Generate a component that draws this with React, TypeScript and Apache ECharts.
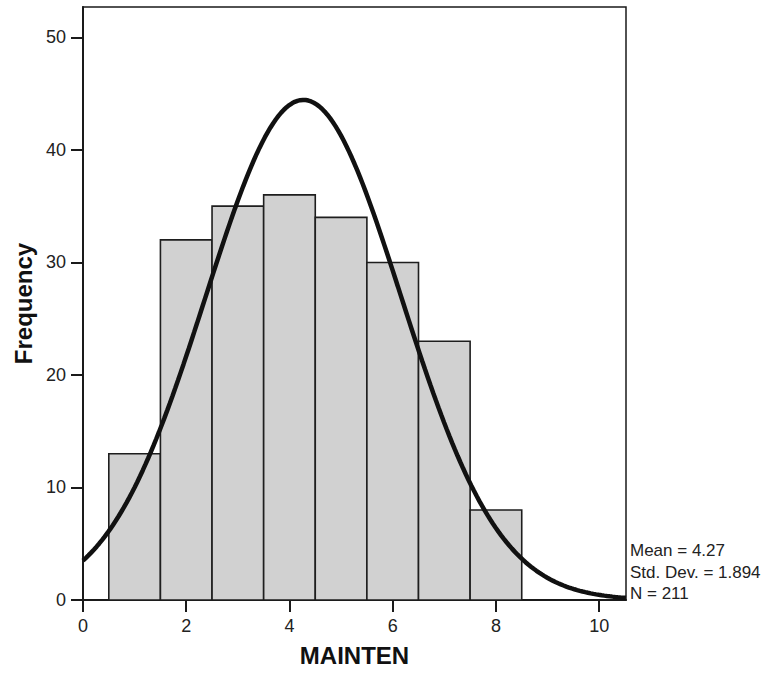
import React, { useEffect, useRef } from "react";
import * as echarts from "echarts";

// Histogram bins (centre of each bin, width 1) and frequencies
const binCentres = [1, 2, 3, 4, 5, 6, 7, 8];
const frequencies = [13, 32, 35, 36, 34, 30, 23, 8];

// Summary statistics printed on the chart
const mean = 4.27;
const stdDev = 1.894;
const n = 211;
const binWidth = 1;

const xTicks = [0, 2, 4, 6, 8, 10];
const yTicks = [0, 10, 20, 30, 40, 50];

const xMin = 0;
const xMax = 10.52;
const yMax = 52.7;

// Fitted normal curve (as drawn by the stats package), from the stated mean / sd / N
function normalCurve(): number[][] {
  const pts: number[][] = [];
  const steps = 200;
  for (let i = 0; i <= steps; i++) {
    const x = xMin + ((xMax - xMin) * i) / steps;
    const z = (x - mean) / stdDev;
    const y = ((n * binWidth) / (stdDev * Math.sqrt(2 * Math.PI))) * Math.exp(-0.5 * z * z);
    pts.push([x, y]);
  }
  return pts;
}

const FONT = "'Liberation Sans', Arial, Helvetica, sans-serif";

export default function App() {
  const ref = useRef<HTMLDivElement>(null);

  useEffect(() => {
    if (!ref.current) return;
    const chart = echarts.init(ref.current, undefined, { renderer: "svg" });
    const barData = binCentres.map((c, i) => [c, frequencies[i]]);

    chart.setOption({
      animation: false,
      backgroundColor: "#ffffff",
      grid: {
        left: 83,
        top: 7,
        width: 543,
        height: 593,
        show: true,
        borderColor: "#1a1a1a",
        borderWidth: 1.5,
        backgroundColor: "transparent",
      },
      xAxis: {
        type: "value",
        min: xMin,
        max: xMax,
        interval: 2,
        name: "MAINTEN",
        nameLocation: "middle",
        nameGap: 43,
        nameTextStyle: { fontFamily: FONT, fontSize: 24, fontWeight: "bold", color: "#111" },
        axisLine: { show: true, onZero: false, lineStyle: { color: "#1a1a1a", width: 2 } },
        axisTick: { show: true, inside: false, length: 12, lineStyle: { color: "#1a1a1a", width: 2 } },
        axisLabel: {
          show: true,
          margin: 17,
          fontFamily: FONT,
          fontSize: 18,
          color: "#222",
          showMaxLabel: false,
          formatter: (v: number) => (xTicks.indexOf(v) >= 0 ? String(v) : ""),
        },
        splitLine: { show: false },
      },
      yAxis: {
        type: "value",
        min: 0,
        max: yMax,
        interval: 10,
        name: "Frequency",
        nameLocation: "middle",
        nameGap: 44,
        nameTextStyle: { fontFamily: FONT, fontSize: 24, fontWeight: "bold", color: "#111" },
        axisLine: { show: true, lineStyle: { color: "#1a1a1a", width: 2 } },
        axisTick: { show: true, inside: false, length: 12, lineStyle: { color: "#1a1a1a", width: 2 } },
        axisLabel: {
          show: true,
          margin: 17,
          fontFamily: FONT,
          fontSize: 18,
          color: "#222",
          showMaxLabel: false,
          formatter: (v: number) => (yTicks.indexOf(v) >= 0 ? String(v) : ""),
        },
        splitLine: { show: false },
      },
      series: [
        {
          type: "custom",
          data: barData,
          z: 2,
          renderItem: (params: any, api: any) => {
            const c = api.value(0);
            const v = api.value(1);
            const p1 = api.coord([c - binWidth / 2, v]);
            const p2 = api.coord([c + binWidth / 2, 0]);
            return {
              type: "rect",
              shape: { x: p1[0], y: p1[1], width: p2[0] - p1[0], height: p2[1] - p1[1] },
              style: { fill: "#d1d1d1", stroke: "#1e1e1e", lineWidth: 1.6 },
            };
          },
        },
        {
          type: "line",
          data: normalCurve(),
          showSymbol: false,
          symbol: "none",
          smooth: false,
          z: 3,
          lineStyle: { color: "#111", width: 4.5 },
        },
      ],
      graphic: [
        {
          type: "text",
          left: 630,
          top: 540,
          style: {
            text: "Mean = 4.27\nStd. Dev. = 1.894\nN = 211",
            fontFamily: FONT,
            fontSize: 17,
            lineHeight: 21.5,
            fill: "#222",
          },
        },
      ],
    });

    return () => chart.dispose();
  }, []);

  return (
    <div
      ref={ref}
      style={{ position: "fixed", left: 0, top: 0, width: 782, height: 675 }}
    />
  );
}
